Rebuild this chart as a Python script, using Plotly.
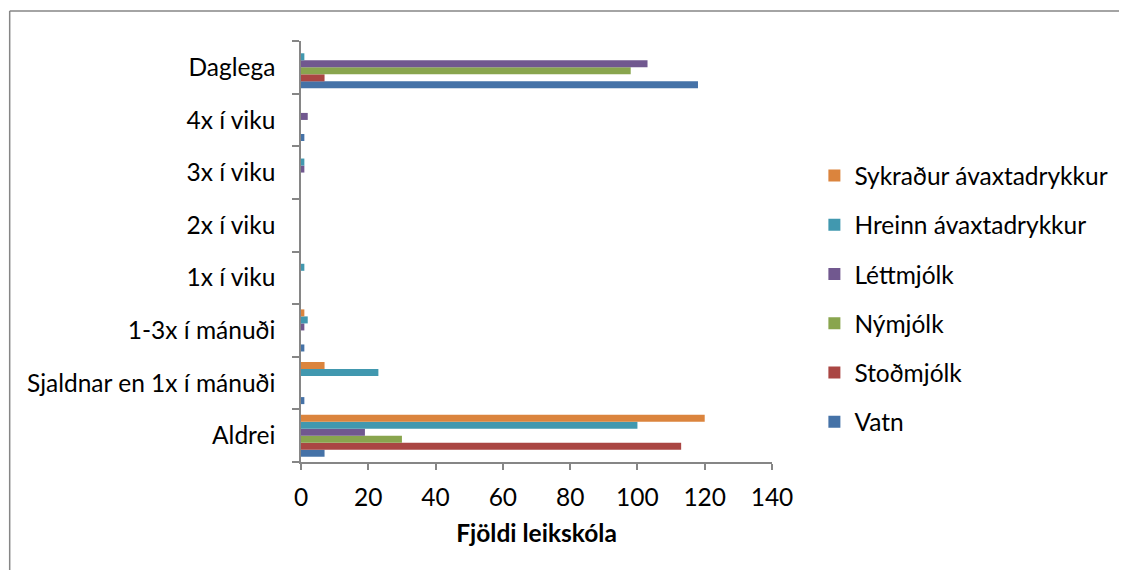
import plotly.graph_objects as go

categories = ["Aldrei", "Sjaldnar en 1x í mánuði", "1-3x í mánuði", "1x í viku",
              "2x í viku", "3x í viku", "4x í viku", "Daglega"]
series_names = ["Vatn", "Stoðmjólk", "Nýmjólk", "Léttmjólk",
                "Hreinn ávaxtadrykkur", "Sykraður ávaxtadrykkur"]
vatn = [7, 1, 1, 0, 0, 0, 1, 118]
stodmjolk = [113, 0, 0, 0, 0, 0, 0, 7]
nymjolk = [30, 0, 0, 0, 0, 0, 0, 98]
lettmjolk = [19, 0, 1, 0, 0, 1, 2, 103]
hreinn = [100, 23, 2, 1, 0, 1, 0, 1]
sykradur = [120, 7, 1, 0, 0, 0, 0, 0]
x_ticks = [0, 20, 40, 60, 80, 100, 120, 140]

values = [vatn, stodmjolk, nymjolk, lettmjolk, hreinn, sykradur]
colors = ["#4572A7", "#AA4643", "#89A54E", "#71588F", "#4198AF", "#DB843D"]

FONT = "Lato"
FS = 24.5
pos = list(range(len(categories)))

fig = go.Figure()
n = len(series_names)
for i, (name, vals, col) in enumerate(zip(series_names, values, colors)):
    fig.add_trace(go.Bar(
        y=pos, x=vals, name=name, orientation="h",
        marker=dict(color=col, line=dict(width=0)),
        legendgroup=name, legendrank=n - i,
    ))

axis_col = "#868686"
border = dict(color=axis_col, width=1.5)
fig.update_layout(
    width=1119, height=562,
    margin=dict(l=293, r=355, t=33, b=108),
    paper_bgcolor="white", plot_bgcolor="white",
    barmode="group", bargap=0.2, bargroupgap=0,
    font=dict(family=FONT, size=FS, color="#000000"),
    showlegend=True,
    legend=dict(
        traceorder="grouped", tracegroupgap=14.4,
        x=1.09, xanchor="left", y=0.387, yanchor="middle",
        font=dict(family=FONT, size=FS),
        itemwidth=30,
    ),
    xaxis=dict(
        range=[0, 140], tickmode="array", tickvals=x_ticks,
        showgrid=False, zeroline=False,
        showline=True, linecolor=axis_col, linewidth=1.5,
        ticks="outside", ticklen=6, tickcolor=axis_col, tickwidth=1.5,
        ticklabelstandoff=7,
        title=dict(text="<b>Fjöldi leikskóla</b>", standoff=15,
                   font=dict(family=FONT, size=FS)),
        fixedrange=True,
    ),
    yaxis=dict(
        range=[-0.5, len(categories) - 0.5],
        tickmode="array", tickvals=pos, ticktext=categories,
        ticks="", showgrid=False, zeroline=False,
        showline=True, linecolor=axis_col, linewidth=1.5,
        ticklabelstandoff=19,
        minor=dict(tickmode="array",
                   tickvals=[p - 0.5 for p in pos] + [len(categories) - 0.5],
                   ticks="outside", ticklen=7, tickcolor=axis_col, tickwidth=1.5,
                   showgrid=False),
        fixedrange=True,
    ),
    shapes=[
        dict(type="line", xref="paper", yref="paper",
             x0=-0.6185, x1=1.85, y0=1.0713, y1=1.0713, line=border, layer="below"),
        dict(type="line", xref="paper", yref="paper",
             x0=-0.6185, x1=-0.6185, y0=-0.4, y1=1.0713, line=border, layer="below"),
    ],
)

fig.write_html("out.html")
